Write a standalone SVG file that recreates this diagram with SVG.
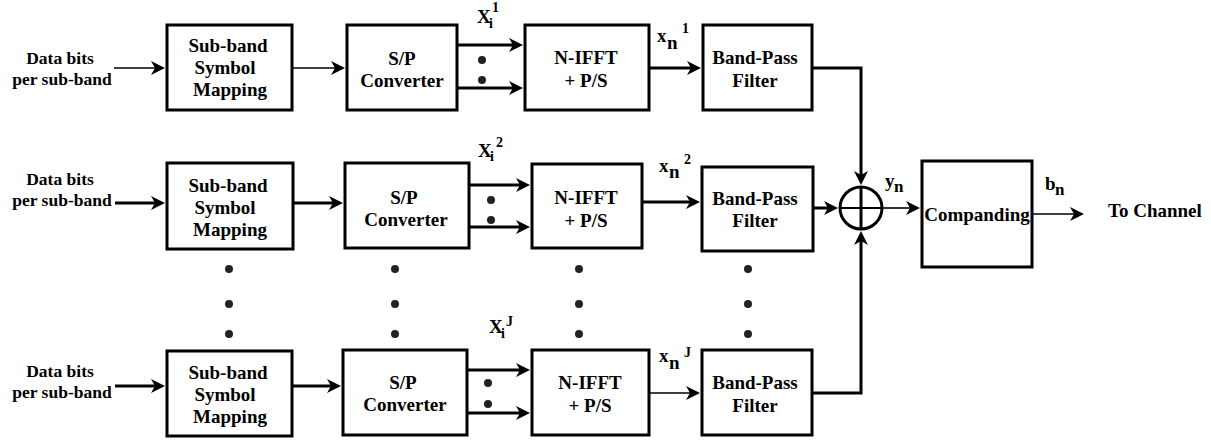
<svg xmlns="http://www.w3.org/2000/svg" width="1211" height="443" viewBox="0 0 1211 443">
<style>
text{font-weight:bold;fill:#000}
.t{font-size:19px;text-anchor:middle}
.d{font-size:17.5px;text-anchor:middle}
.l{font-size:19px}
.s{font-size:14px}
.box{fill:#fff;stroke:#000;stroke-width:3}
.w{fill:none;stroke:#000;stroke-width:3}
.n{fill:none;stroke:#000;stroke-width:1.6}
.dot{fill:#222}
</style>
<defs>
<marker id="ah" viewBox="0 0 14 14" refX="8" refY="7" markerWidth="14" markerHeight="14" markerUnits="userSpaceOnUse" orient="auto">
<path d="M0,0 L14,7 L0,14 L4,7 Z" fill="#000"/>
</marker>
</defs>

<g id="connectors">
<line class="n" x1="114" y1="68" x2="159" y2="68" marker-end="url(#ah)"/>
<line class="n" x1="292" y1="68" x2="339" y2="68" marker-end="url(#ah)"/>
<line class="w" x1="457" y1="45" x2="517" y2="45" marker-end="url(#ah)"/>
<line class="w" x1="457" y1="88" x2="517" y2="88" marker-end="url(#ah)"/>
<line class="w" x1="649" y1="68" x2="695" y2="68" marker-end="url(#ah)"/>
<polyline class="w" points="812,68 861,68 861,179" marker-end="url(#ah)"/>
<line class="w" x1="115" y1="203" x2="159" y2="203" marker-end="url(#ah)"/>
<line class="w" x1="293" y1="203" x2="337" y2="203" marker-end="url(#ah)"/>
<line class="w" x1="469" y1="185" x2="524" y2="185" marker-end="url(#ah)"/>
<line class="w" x1="469" y1="227" x2="524" y2="227" marker-end="url(#ah)"/>
<line class="w" x1="642" y1="202" x2="694" y2="202" marker-end="url(#ah)"/>
<line class="w" x1="813" y1="208" x2="832" y2="208" marker-end="url(#ah)"/>
<line class="w" x1="115" y1="386" x2="159" y2="386" marker-end="url(#ah)"/>
<line class="w" x1="292" y1="386" x2="335" y2="386" marker-end="url(#ah)"/>
<line class="w" x1="467" y1="370" x2="524" y2="370" marker-end="url(#ah)"/>
<line class="w" x1="467" y1="413" x2="524" y2="413" marker-end="url(#ah)"/>
<line class="n" x1="649" y1="393" x2="694" y2="393" marker-end="url(#ah)"/>
<polyline class="w" points="812,393 861,393 861,237" marker-end="url(#ah)"/>
<line class="n" x1="882" y1="208" x2="914" y2="208" marker-end="url(#ah)"/>
<line class="n" x1="1032" y1="214" x2="1078" y2="214" marker-end="url(#ah)"/>
</g>

<g font-family="'Liberation Serif', 'DejaVu Serif', serif">
<g id="input1"><text class="d" x="60" y="64">Data bits</text><text class="d" x="62" y="85">per sub-band</text></g>
<g id="input2"><text class="d" x="60" y="185">Data bits</text><text class="d" x="62" y="206">per sub-band</text></g>
<g id="input3"><text class="d" x="60" y="377">Data bits</text><text class="d" x="62" y="398">per sub-band</text></g>

<g id="map1"><rect class="box" x="167" y="25" width="125" height="85"/>
<text class="t" x="228" y="52">Sub-band</text><text class="t" x="225" y="74">Symbol</text><text class="t" x="230" y="96">Mapping</text></g>
<g id="map2"><rect class="box" x="167" y="163" width="126" height="86"/>
<text class="t" x="228" y="192">Sub-band</text><text class="t" x="225" y="214">Symbol</text><text class="t" x="230" y="236">Mapping</text></g>
<g id="map3"><rect class="box" x="167" y="351" width="125" height="85"/>
<text class="t" x="228" y="379">Sub-band</text><text class="t" x="225" y="401">Symbol</text><text class="t" x="230" y="423">Mapping</text></g>

<g id="sp1"><rect class="box" x="347" y="25" width="110" height="85"/>
<text class="t" x="402" y="65">S/P</text><text class="t" x="402" y="87">Converter</text></g>
<g id="sp2"><rect class="box" x="345" y="163" width="124" height="85"/>
<text class="t" x="404" y="204">S/P</text><text class="t" x="406" y="226">Converter</text></g>
<g id="sp3"><rect class="box" x="343" y="350" width="124" height="85"/>
<text class="t" x="403" y="389">S/P</text><text class="t" x="405" y="411">Converter</text></g>

<g id="ifft1"><rect class="box" x="525" y="25" width="124" height="85"/>
<text class="t" x="586" y="64">N-IFFT</text><text class="t" x="586" y="87">+ P/S</text></g>
<g id="ifft2"><rect class="box" x="532" y="164" width="110" height="84"/>
<text class="t" x="586" y="204">N-IFFT</text><text class="t" x="586" y="227">+ P/S</text></g>
<g id="ifft3"><rect class="box" x="532" y="350" width="117" height="85"/>
<text class="t" x="590" y="389">N-IFFT</text><text class="t" x="590" y="412">+ P/S</text></g>

<g id="bpf1"><rect class="box" x="703" y="25" width="109" height="85"/>
<text class="t" x="755" y="64">Band-Pass</text><text class="t" x="755" y="87">Filter</text></g>
<g id="bpf2"><rect class="box" x="702" y="167" width="111" height="84"/>
<text class="t" x="755" y="205">Band-Pass</text><text class="t" x="755" y="227">Filter</text></g>
<g id="bpf3"><rect class="box" x="702" y="350" width="110" height="85"/>
<text class="t" x="755" y="389">Band-Pass</text><text class="t" x="755" y="412">Filter</text></g>

<g id="summer"><circle cx="861" cy="208" r="21" fill="none" stroke="#000" stroke-width="3"/>
<line x1="840" y1="208" x2="882" y2="208" stroke="#000" stroke-width="2"/>
<line x1="861" y1="187" x2="861" y2="229" stroke="#000" stroke-width="3"/></g>

<g id="companding"><rect class="box" x="922" y="161" width="110" height="106"/>
<text class="t" x="977" y="221">Companding</text></g>

<g id="labels">
<text class="l" x="477" y="23">X</text><text class="s" x="489" y="28">i</text><text class="s" x="492" y="12">1</text>
<text class="l" x="478" y="157">X</text><text class="s" x="490" y="161">i</text><text class="s" x="496" y="147">2</text>
<text class="l" x="489" y="333">X</text><text class="s" x="501" y="338">i</text><text class="s" x="506" y="326">J</text>
<text class="l" x="657" y="42">x</text><text class="l" x="667" y="49">n</text><text class="s" x="682" y="33">1</text>
<text class="l" x="659" y="172">x</text><text class="l" x="669" y="178">n</text><text class="s" x="684" y="164">2</text>
<text class="l" x="659" y="362">x</text><text class="l" x="669" y="369">n</text><text class="s" x="684" y="357">J</text>
<text class="l" x="885" y="187">y</text><text class="l" x="894" y="192" style="font-size:17px">n</text>
<text class="l" x="1045" y="190">b</text><text class="l" x="1055" y="195" style="font-size:17px">n</text>
<text class="l" x="1108" y="217">To Channel</text>
</g>
</g>

<g id="dots">
<circle class="dot" cx="482" cy="60" r="4"/><circle class="dot" cx="482" cy="80" r="4"/>
<circle class="dot" cx="491" cy="200" r="4"/><circle class="dot" cx="491" cy="220" r="4"/>
<circle class="dot" cx="488" cy="383" r="4"/><circle class="dot" cx="488" cy="404" r="4"/>
<circle class="dot" cx="229" cy="269" r="4"/><circle class="dot" cx="229" cy="304" r="4"/><circle class="dot" cx="229" cy="334" r="4"/>
<circle class="dot" cx="395" cy="269" r="4"/><circle class="dot" cx="395" cy="304" r="4"/><circle class="dot" cx="395" cy="334" r="4"/>
<circle class="dot" cx="579" cy="269" r="4"/><circle class="dot" cx="579" cy="304" r="4"/><circle class="dot" cx="579" cy="334" r="4"/>
<circle class="dot" cx="748" cy="269" r="4"/><circle class="dot" cx="748" cy="304" r="4"/><circle class="dot" cx="748" cy="334" r="4"/>
</g>
</svg>
